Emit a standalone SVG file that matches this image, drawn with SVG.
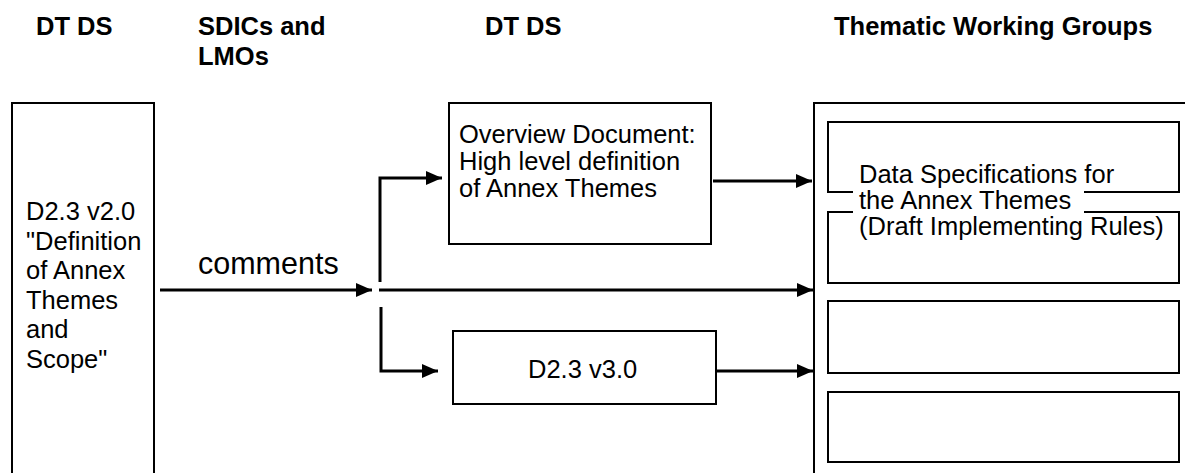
<svg xmlns="http://www.w3.org/2000/svg" width="1185" height="473" viewBox="0 0 1185 473">
<style>
.hdr{font-family:"Liberation Sans",Arial,sans-serif;font-weight:bold;font-size:25.5px;fill:#000}
.txt{font-family:"Liberation Sans",Arial,sans-serif;font-size:25.5px;fill:#000}
.big{font-family:"Liberation Sans",Arial,sans-serif;font-size:30.5px;fill:#000}
.box{fill:#fff;stroke:#000;stroke-width:2}
.conn{fill:none;stroke:#000;stroke-width:3}
</style>
<defs>
<marker id="arr" markerUnits="userSpaceOnUse" markerWidth="16" markerHeight="14" refX="16" refY="7" orient="auto">
<path d="M0,0 L16,7 L0,14 Z" fill="#000"/>
</marker>
</defs>
<rect width="1185" height="473" fill="#fff"/>
<g id="headers">
<text class="hdr" x="36" y="35">DT DS</text>
<text class="hdr" x="198" y="35">SDICs and</text>
<text class="hdr" x="198" y="65">LMOs</text>
<text class="hdr" x="485" y="35">DT DS</text>
<text class="hdr" x="834" y="35">Thematic Working Groups</text>
</g>
<g id="node-d23v2">
<rect class="box" x="12" y="103" width="142" height="400"/>
<text class="txt" x="26" y="220">D2.3 v2.0</text>
<text class="txt" x="26" y="249.5">"Definition</text>
<text class="txt" x="26" y="279">of Annex</text>
<text class="txt" x="26" y="308.5">Themes</text>
<text class="txt" x="26" y="338">and</text>
<text class="txt" x="26" y="367.5">Scope"</text>
</g>
<g id="node-overview">
<rect class="box" x="449" y="103" width="262" height="141"/>
<text class="txt" x="459" y="143">Overview Document:</text>
<text class="txt" x="459" y="170">High level definition</text>
<text class="txt" x="459" y="197">of Annex Themes</text>
</g>
<g id="node-d23v3">
<rect class="box" x="453" y="331" width="263" height="73"/>
<text class="txt" x="528" y="378">D2.3 v3.0</text>
</g>
<g id="node-twg">
<rect class="box" x="814" y="103" width="400" height="400"/>
<rect class="box" x="828" y="122" width="351" height="70"/>
<rect class="box" x="828" y="212" width="351" height="71"/>
<rect class="box" x="828" y="301" width="351" height="72"/>
<rect class="box" x="828" y="392" width="351" height="70"/>
<rect x="853" y="160" width="231" height="80" fill="#fff"/>
<text class="txt" x="859" y="183">Data Specifications for</text>
<text class="txt" x="859" y="209">the Annex Themes</text>
<text class="txt" x="859" y="235">(Draft Implementing Rules)</text>
</g>
<g id="connectors">
<path class="conn" d="M160,290 H372" marker-end="url(#arr)"/>
<text class="big" x="198" y="274">comments</text>
<path class="conn" d="M380,282 V178 H442" marker-end="url(#arr)"/>
<path class="conn" d="M379,290 H813" marker-end="url(#arr)"/>
<path class="conn" d="M381,307 V371 H438" marker-end="url(#arr)"/>
<path class="conn" d="M713,181 H812" marker-end="url(#arr)"/>
<path class="conn" d="M717,371 H813" marker-end="url(#arr)"/>
</g>
</svg>
